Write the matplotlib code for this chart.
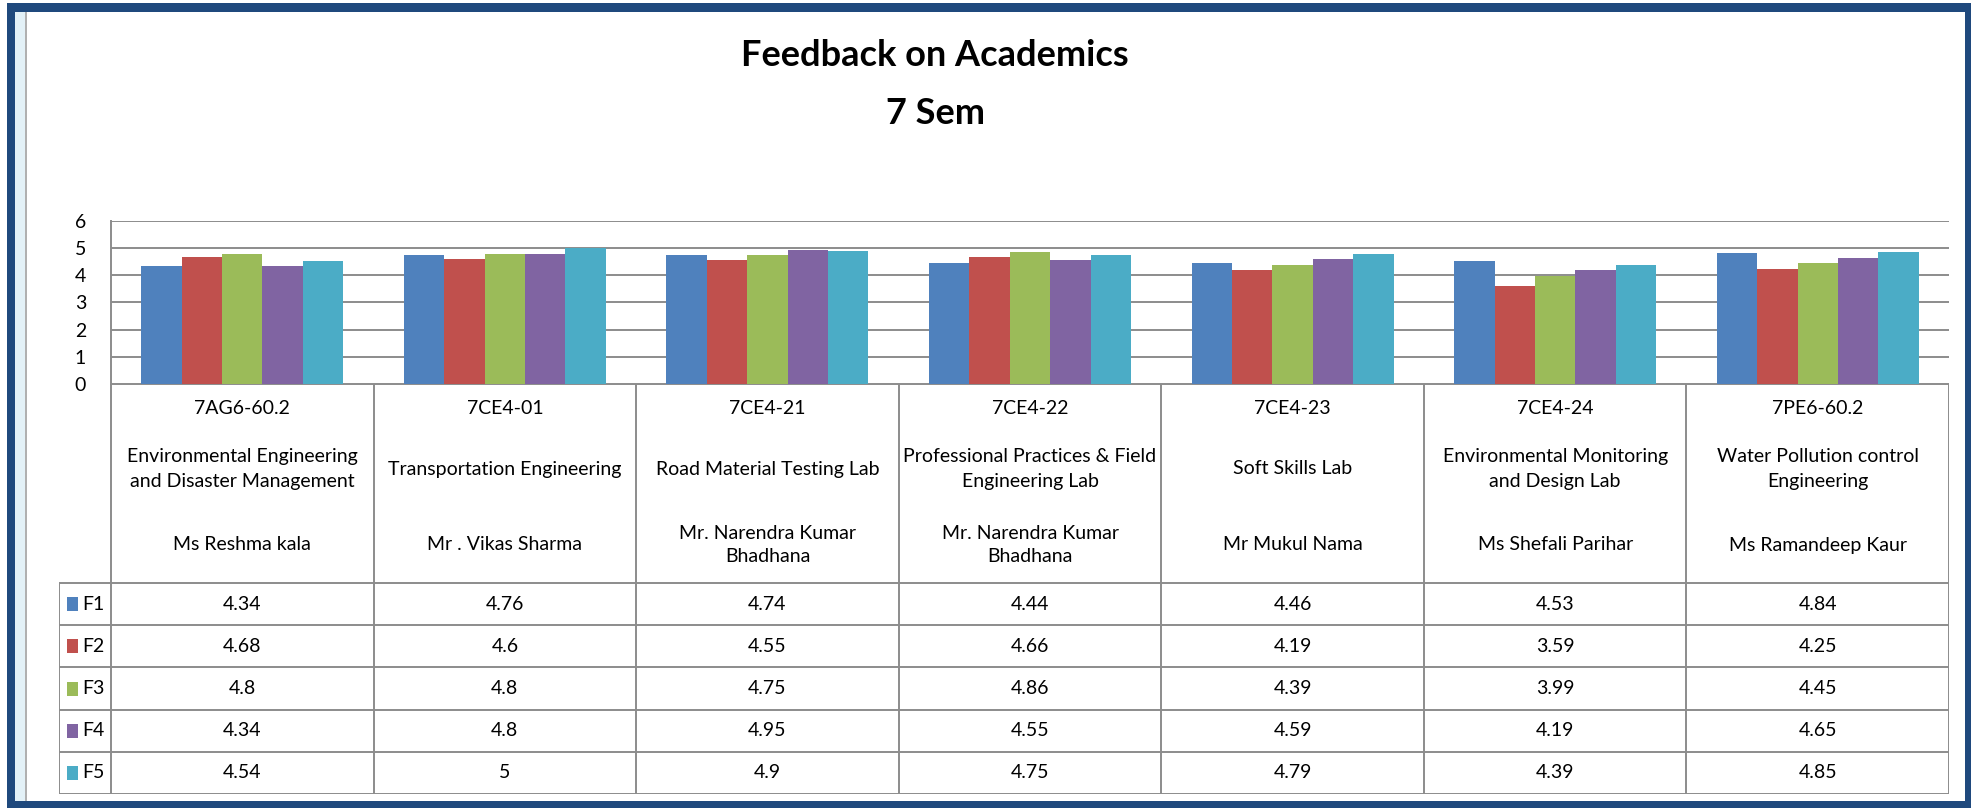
import numpy as np
import matplotlib
matplotlib.use('Agg')
import matplotlib.pyplot as plt
from matplotlib.patches import Rectangle

plt.rcParams['font.family'] = ['Lato', 'DejaVu Sans']

# data
codes = ['7AG6-60.2', '7CE4-01', '7CE4-21', '7CE4-22', '7CE4-23', '7CE4-24', '7PE6-60.2']
subjects = ['Environmental Engineering\nand Disaster Management',
            'Transportation Engineering',
            'Road Material Testing Lab',
            'Professional Practices & Field\nEngineering Lab',
            'Soft Skills Lab',
            'Environmental Monitoring\nand Design Lab',
            'Water Pollution control\nEngineering']
teachers = ['Ms Reshma kala', 'Mr . Vikas Sharma', 'Mr. Narendra Kumar\nBhadhana',
            'Mr. Narendra Kumar\nBhadhana', 'Mr Mukul Nama', 'Ms Shefali Parihar',
            'Ms Ramandeep Kaur']
series = ['F1', 'F2', 'F3', 'F4', 'F5']
F1 = [4.34, 4.76, 4.74, 4.44, 4.46, 4.53, 4.84]
F2 = [4.68, 4.6, 4.55, 4.66, 4.19, 3.59, 4.25]
F3 = [4.8, 4.8, 4.75, 4.86, 4.39, 3.99, 4.45]
F4 = [4.34, 4.8, 4.95, 4.55, 4.59, 4.19, 4.65]
F5 = [4.54, 5, 4.9, 4.75, 4.79, 4.39, 4.85]
values = [F1, F2, F3, F4, F5]
colors = ['#4F81BD', '#C0504D', '#9BBB59', '#8064A2', '#4BACC6']

W, H = 1971, 808
fig = plt.figure(figsize=(W / 100, H / 100), dpi=100)
fig.patch.set_facecolor('white')


def px_rect(l, t, r, b, color, z):
    # rectangle given in pixel coords (origin top-left)
    fig.patches.append(Rectangle((l / W, 1 - b / H), (r - l) / W, (b - t) / H,
                                 transform=fig.transFigure, facecolor=color,
                                 edgecolor='none', zorder=z))


# blue window frame, spreadsheet strip on the left, white chart area
px_rect(7, 3, W, H, '#1F497D', -10)
px_rect(15, 12, 1965, 801, 'white', -9)
px_rect(15, 12, 25, 801, '#E3F1F7', -8)
px_rect(25, 12, 26.5, 801, '#B0B0B0', -8)

grid_c = '#8C8C8C'
n = len(codes)
legw = 52 / 262.4  # legend column width in category units

# bar chart
x0, x1 = 111, 1949
y_top, y_zero = 221, 384
ax = fig.add_axes([x0 / W, 1 - y_zero / H, (x1 - x0) / W, (y_zero - y_top) / H])
ax.set_facecolor('none')
bw = 1 / 6.5
x = np.arange(n)
for i, (vals, c) in enumerate(zip(values, colors)):
    ax.bar(x + (i - 2) * bw, vals, width=bw, color=c, zorder=3)
ax.set_xlim(-0.5, n - 0.5)
ax.set_ylim(0, 6)
ax.set_yticks(range(7))
ax.set_yticklabels([str(v) for v in range(7)], fontsize=14)
ax.tick_params(axis='y', length=0, pad=18)
ax.set_xticks([])
ax.yaxis.grid(True, color=grid_c, lw=1.4, zorder=1)
for s in ['top', 'right', 'bottom']:
    ax.spines[s].set_visible(False)
ax.spines['left'].set_color(grid_c)
ax.spines['left'].set_linewidth(1.4)

# data table below
t0, t1 = 59, 1949
tb = 794
axt = fig.add_axes([t0 / W, 1 - tb / H, (t1 - t0) / W, (tb - y_zero) / H])
axt.set_xlim(-0.5 - legw, n - 0.5)
axt.set_ylim(tb, y_zero)
axt.axis('off')

hdr_bottom = 583
row_h = (tb - hdr_bottom) / len(series)
lk = dict(color=grid_c, lw=1.4, solid_capstyle='butt')
axt.plot([-0.5, n - 0.5], [y_zero, y_zero], **lk)
for k in range(n + 1):
    axt.plot([k - 0.5, k - 0.5], [y_zero, tb], **lk)
axt.plot([-0.5 - legw, -0.5 - legw], [hdr_bottom, tb], **lk)
for r in range(len(series) + 1):
    yy = hdr_bottom + r * row_h
    axt.plot([-0.5 - legw, n - 0.5], [yy, yy], **lk)

fs = 14
for k in range(n):
    axt.text(k, 408, codes[k], ha='center', va='center', fontsize=fs)
    axt.text(k, 469, subjects[k], ha='center', va='center', fontsize=fs, linespacing=1.55)
    axt.text(k, 545, teachers[k], ha='center', va='center', fontsize=fs, linespacing=1.45)

for r, (name, vals, c) in enumerate(zip(series, values, colors)):
    yc = hdr_bottom + (r + 0.5) * row_h
    axt.add_patch(Rectangle((-0.5 - legw + 8 / 262.4, yc - 7), 11 / 262.4, 14,
                            facecolor=c, edgecolor='none'))
    axt.text(-0.5 - legw + 23 / 262.4, yc, name, ha='left', va='center', fontsize=fs)
    for k in range(n):
        axt.text(k, yc, f'{vals[k]:g}', ha='center', va='center', fontsize=fs)

fig.text(935 / W, 1 - 55 / H, 'Feedback on Academics', ha='center', va='center',
         fontsize=26, fontweight='bold')
fig.text(935 / W, 1 - 113 / H, '7 Sem', ha='center', va='center',
         fontsize=26, fontweight='bold')

fig.savefig('out.png', dpi=100, facecolor=fig.get_facecolor())
